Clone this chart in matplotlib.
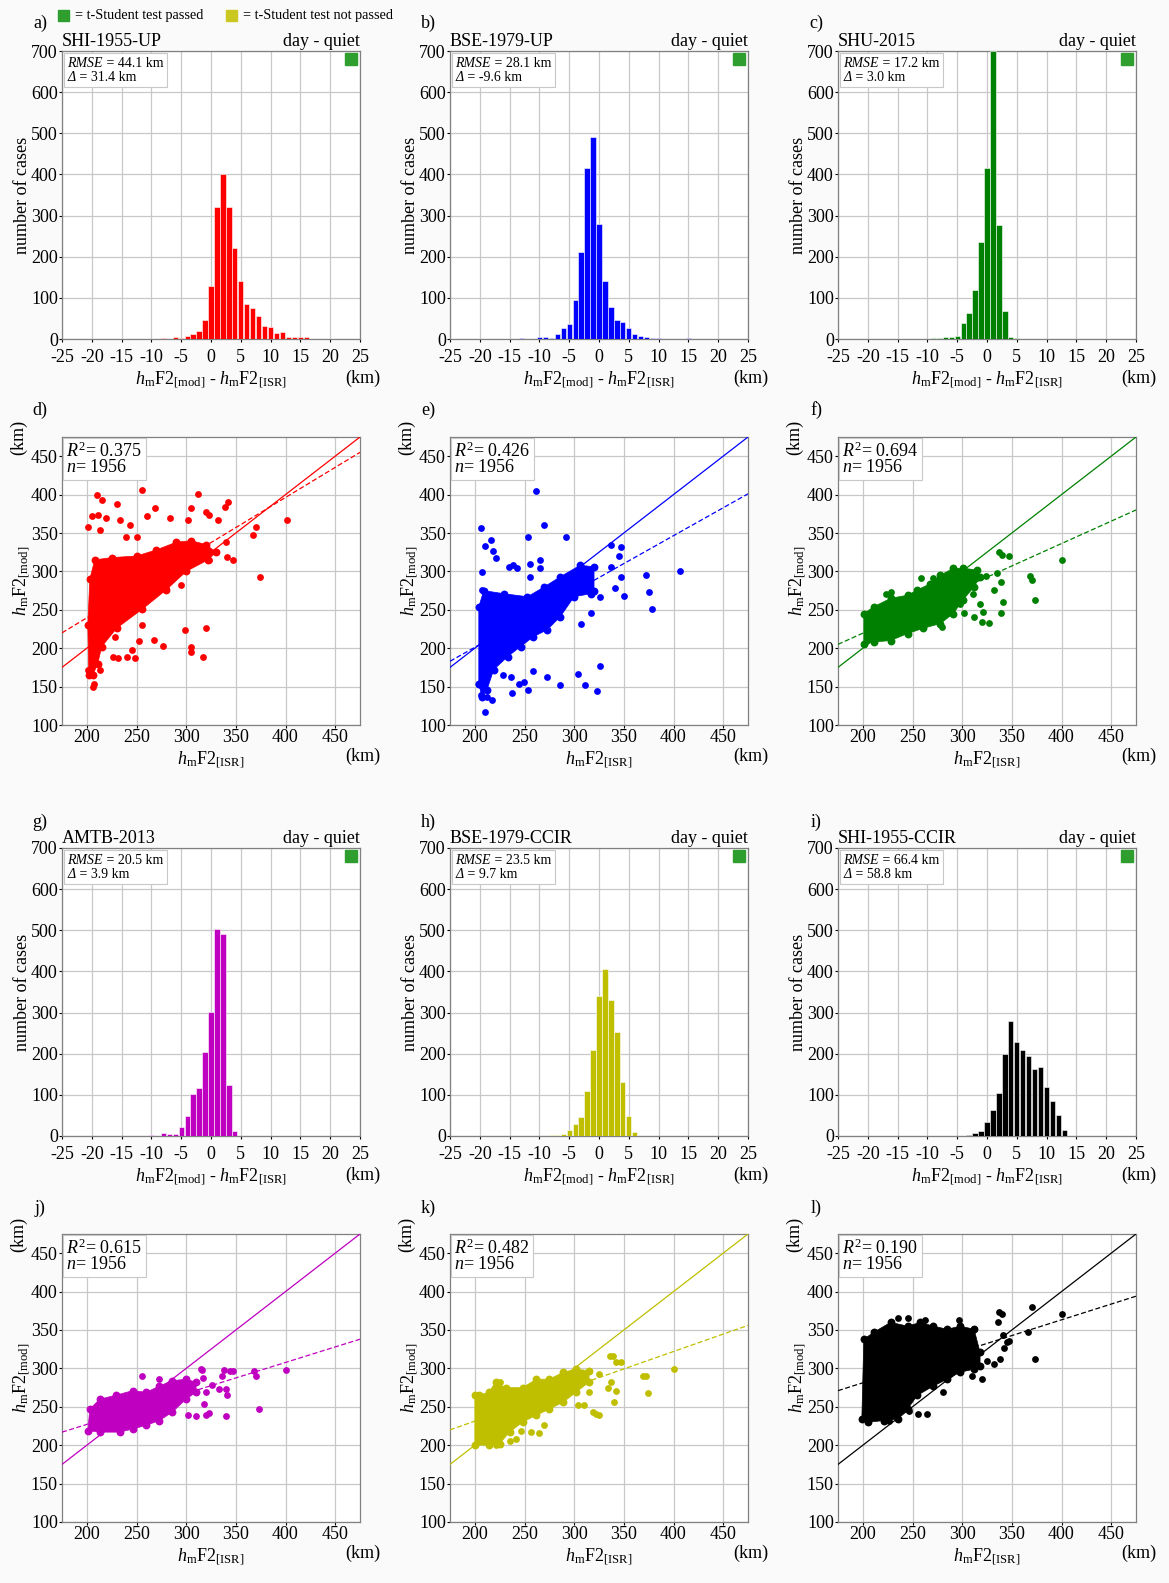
import matplotlib.pyplot as plt
import numpy as np
from matplotlib.offsetbox import TextArea, HPacker, VPacker, AnchoredOffsetbox

plt.rcParams['font.family'] = ['Liberation Serif', 'DejaVu Serif']
plt.rcParams['mathtext.fontset'] = 'custom'
plt.rcParams['mathtext.rm'] = 'Liberation Serif'
plt.rcParams['mathtext.it'] = 'Liberation Serif:italic'
plt.rcParams['mathtext.bf'] = 'Liberation Serif:bold'
plt.rcParams['axes.unicode_minus'] = False

# ---- histogram data (bin centre, number of cases) ----
hist_x_a = [-8, -6, -5, -4, -3, -2, -1, 0, 1, 2, 3, 4, 5, 6, 7, 8, 9, 10, 11, 12, 13, 14, 15, 16]
hist_n_a = [2, 5, 2, 8, 11, 20, 45, 130, 322, 401, 322, 220, 141, 85, 76, 55, 31, 28, 14, 16, 6, 4, 6, 6]

hist_x_b = [-13, -10, -9, -8, -7, -6, -5, -4, -3, -2, -1, 0, 1, 2, 3, 4, 5, 6, 7, 8, 9, 10, 13, 15]
hist_n_b = [2, 5, 5, 3, 12, 27, 37, 95, 212, 415, 490, 280, 140, 78, 45, 42, 27, 11, 8, 6, 3, 2, 1, 2]

hist_x_c = [-9, -8, -7, -6, -5, -4, -3, -2, -1, 0, 1, 2, 3, 4, 5]
hist_n_c = [3, 3, 5, 5, 8, 40, 62, 120, 235, 415, 700, 277, 68, 5, 2]

hist_x_g = [-10, -8, -7, -6, -5, -4, -3, -2, -1, 0, 1, 2, 3, 4]
hist_n_g = [2, 7, 5, 5, 22, 48, 103, 117, 205, 302, 502, 490, 125, 12]

hist_x_h = [-8, -7, -6, -5, -4, -3, -2, -1, 0, 1, 2, 3, 4, 5, 6]
hist_n_h = [3, 2, 5, 15, 30, 45, 110, 210, 340, 405, 330, 252, 132, 48, 10]

hist_x_i = [-3, -2, -1, 0, 1, 2, 3, 4, 5, 6, 7, 8, 9, 10, 11, 12, 13]
hist_n_i = [2, 8, 12, 35, 62, 105, 200, 280, 228, 210, 195, 162, 168, 118, 85, 50, 15]

models = ['SHI-1955-UP', 'BSE-1979-UP', 'SHU-2015', 'AMTB-2013', 'BSE-1979-CCIR', 'SHI-1955-CCIR']
rmse = ['44.1', '28.1', '17.2', '20.5', '23.5', '66.4']
delta = ['31.4', '-9.6', '3.0', '3.9', '9.7', '58.8']
r2 = ['0.375', '0.426', '0.694', '0.615', '0.482', '0.190']
n_cases = ['1956'] * 6
colors = ['#ff0000', '#0000ff', '#008000', '#c000c0', '#bfbf00', '#000000']
hist_labels = ['a)', 'b)', 'c)', 'g)', 'h)', 'i)']
scat_labels = ['d)', 'e)', 'f)', 'j)', 'k)', 'l)']

# ---- scatter data: dense core outline + individual points (km) ----
core_d_x = [202, 201, 203, 208, 225, 250, 270, 290, 305, 320, 330, 322, 300, 280, 256, 230, 215, 211, 206]
core_d_y = [165, 230, 290, 315, 318, 320, 328, 338, 340, 335, 325, 315, 300, 276, 251, 226, 202, 180, 165]
pts_d_x = [210, 215, 230, 256, 312, 342, 339, 305, 269, 205, 211, 219, 233, 243, 261, 284, 302, 332, 201, 213,
           239, 250, 320, 323, 340, 341, 347, 370, 367, 402, 374, 299, 320, 256, 253, 245, 226, 231, 240, 248,
           277, 305, 305, 317, 268, 228, 206, 207, 201, 213, 295, 280, 323, 300, 287]
pts_d_y = [399, 393, 388, 406, 401, 390, 384, 382, 382, 372, 373, 370, 367, 360, 372, 369, 367, 367, 358, 354,
           345, 345, 377, 373, 338, 319, 315, 358, 348, 367, 293, 224, 226, 230, 210, 198, 189, 187, 189, 187,
           203, 201, 195, 189, 211, 215, 150, 154, 172, 172, 282, 278, 315, 315, 321]
fit_d = [220, 455]

core_e_x = [204, 204, 209, 229, 253, 270, 286, 306, 320, 320, 317, 300, 286, 273, 259, 246, 233, 219, 212, 207, 204]
core_e_y = [154, 254, 275, 271, 267, 280, 293, 308, 306, 275, 271, 267, 241, 224, 215, 202, 189, 172, 145, 137, 154]
pts_e_x = [262, 270, 206, 254, 292, 210, 216, 218, 221, 207, 207, 234, 238, 242, 256, 266, 256, 266, 337, 347,
           345, 337, 347, 372, 375, 378, 407, 350, 341, 326, 317, 307, 326, 304, 311, 323, 286, 273, 259, 236,
           244, 249, 254, 237, 228, 210, 206, 212, 217]
pts_e_y = [405, 360, 357, 345, 345, 333, 341, 326, 317, 299, 276, 306, 308, 304, 310, 315, 293, 304, 335, 332,
           320, 306, 293, 295, 273, 251, 301, 268, 279, 267, 246, 231, 177, 166, 152, 144, 152, 162, 170, 163,
           153, 156, 146, 142, 165, 117, 139, 137, 133]
fit_e = [183, 401]

core_f_x = [201, 211, 228, 245, 261, 278, 291, 301, 312, 318, 315, 301, 291, 278, 268, 255, 245, 228, 211, 201]
core_f_y = [206, 208, 210, 219, 226, 232, 245, 263, 280, 293, 302, 304, 304, 295, 284, 276, 269, 265, 254, 245]
pts_f_x = [337, 340, 347, 401, 368, 370, 373, 341, 339, 332, 335, 339, 324, 311, 318, 321, 312, 320, 327, 302,
           298, 271, 259, 223, 228, 205, 234, 280]
pts_f_y = [325, 322, 320, 315, 294, 289, 263, 260, 246, 276, 298, 286, 294, 270, 258, 247, 241, 234, 233, 246,
           257, 291, 291, 271, 273, 244, 226, 228]
fit_f = [205, 380]

core_j_x = [201, 213, 233, 246, 260, 273, 286, 300, 310, 310, 300, 286, 273, 260, 246, 229, 213, 203]
core_j_y = [219, 217, 217, 221, 226, 232, 243, 260, 269, 282, 286, 284, 277, 269, 271, 265, 260, 247]
pts_j_x = [316, 336, 338, 344, 347, 368, 370, 401, 373, 340, 341, 340, 333, 326, 320, 318, 323, 320, 310, 302,
           317, 273, 256, 315]
pts_j_y = [298, 290, 298, 296, 296, 296, 290, 298, 247, 238, 265, 273, 273, 279, 269, 254, 242, 239, 238, 239,
           288, 286, 290, 299]
fit_j = [217, 338]

core_k_x = [200, 214, 225, 235, 248, 262, 275, 289, 302, 315, 315, 302, 289, 275, 262, 248, 231, 221, 214, 204, 200]
core_k_y = [200, 200, 202, 217, 230, 239, 247, 256, 269, 282, 297, 299, 295, 286, 286, 275, 275, 282, 269, 265, 265]
pts_k_x = [336, 339, 342, 347, 401, 369, 372, 374, 340, 342, 334, 337, 325, 325, 319, 322, 310, 304, 315, 257,
           265, 270, 246, 235, 241, 221, 225]
pts_k_y = [316, 316, 308, 308, 299, 290, 290, 268, 256, 270, 274, 282, 293, 239, 243, 241, 252, 252, 269, 217,
           216, 226, 219, 206, 208, 200, 282]
fit_k = [220, 356]

core_l_x = [199, 205, 221, 235, 245, 255, 271, 285, 298, 312, 318, 318, 312, 298, 285, 271, 258, 245, 228, 211, 201]
core_l_y = [234, 230, 232, 234, 247, 265, 277, 286, 295, 299, 303, 321, 351, 355, 351, 355, 360, 355, 360, 347, 338]
pts_l_x = [235, 245, 263, 297, 337, 340, 370, 401, 366, 373, 336, 341, 342, 338, 332, 325, 345, 347, 320, 310,
           288, 281, 256, 265, 246, 226]
pts_l_y = [366, 366, 363, 363, 374, 371, 380, 371, 347, 312, 361, 343, 327, 312, 306, 309, 335, 336, 286, 290,
           293, 269, 241, 241, 245, 232]
fit_l = [271, 394]

cores = [(core_d_x, core_d_y), (core_e_x, core_e_y), (core_f_x, core_f_y),
         (core_j_x, core_j_y), (core_k_x, core_k_y), (core_l_x, core_l_y)]
points = [(pts_d_x, pts_d_y), (pts_e_x, pts_e_y), (pts_f_x, pts_f_y),
          (pts_j_x, pts_j_y), (pts_k_x, pts_k_y), (pts_l_x, pts_l_y)]
fits = [fit_d, fit_e, fit_f, fit_j, fit_k, fit_l]
hists = [(hist_x_a, hist_n_a), (hist_x_b, hist_n_b), (hist_x_c, hist_n_c),
         (hist_x_g, hist_n_g), (hist_x_h, hist_n_h), (hist_x_i, hist_n_i)]

W, H = 1169, 1583
fig = plt.figure(figsize=(W / 100, H / 100), dpi=100)
fig.patch.set_facecolor('#fafafa')

col_left = [62, 450, 838]
ax_w = 298
hist_tops = [51, 848]
scat_tops = [437, 1234]
ax_h = 288
letter_y = [[23, 410], [822, 1208]]
GREEN = '#2e9e2e'
YELLOW = '#c8c81e'
FS = 13

xl_hist = r'$h_{\rm m}$F2$_{\rm [mod]}$ - $h_{\rm m}$F2$_{\rm [ISR]}$'
yl_scat = r'$h_{\rm m}$F2$_{\rm [mod]}$'
xl_scat = r'$h_{\rm m}$F2$_{\rm [ISR]}$'


def px_axes(left, top, w, h):
    return fig.add_axes([left / W, 1 - (top + h) / H, w / W, h / H])


def style_axes(ax):
    ax.set_facecolor('white')
    ax.grid(True, color='#c8c8c8', lw=0.9)
    ax.set_axisbelow(True)
    for sp in ax.spines.values():
        sp.set_color('#808080')
        sp.set_linewidth(0.9)
    ax.tick_params(labelsize=FS, length=2, pad=1, colors='black')


def stats_box(ax, rm, dl):
    fs = 10
    line1 = HPacker(children=[TextArea('RMSE', textprops=dict(fontsize=fs, style='italic')),
                              TextArea(' = %s km' % rm, textprops=dict(fontsize=fs))],
                    pad=0, sep=0)
    line2 = HPacker(children=[TextArea('Δ', textprops=dict(fontsize=fs, style='italic')),
                              TextArea(' = %s km' % dl, textprops=dict(fontsize=fs))],
                    pad=0, sep=0)
    box = VPacker(children=[line1, line2], pad=0, sep=1, align='left')
    anc = AnchoredOffsetbox(loc='upper left', child=box, pad=0.25, borderpad=0.15,
                            frameon=True, bbox_to_anchor=(0.0, 1.0), bbox_transform=ax.transAxes)
    anc.patch.set_edgecolor('#c8c8c8')
    anc.patch.set_linewidth(0.8)
    anc.patch.set_boxstyle('square', pad=0)
    anc.set_zorder(5)
    ax.add_artist(anc)


for k in range(6):
    row, col = divmod(k, 3)
    left = col_left[col]
    color = colors[k]

    # ---------------- histogram ----------------
    ax = px_axes(left, hist_tops[row], ax_w, ax_h)
    style_axes(ax)
    ax.tick_params(axis='x', pad=5)
    hx, hn = hists[k]
    ax.bar(hx, hn, width=0.88, color=color, edgecolor='white', linewidth=0.4, zorder=3)
    ax.set_xlim(-25, 25)
    ax.set_ylim(0, 700)
    ax.set_xticks(np.arange(-25, 26, 5))
    ax.set_yticks(np.arange(0, 701, 100))
    ax.set_ylabel('number of cases', fontsize=FS, labelpad=0)
    ax.set_xlabel(xl_hist, fontsize=FS, labelpad=3)
    ax.text(1.07, -0.135, '(km)', transform=ax.transAxes, fontsize=FS, ha='right', va='center')
    ax.text(0.0, 1.005, models[k], transform=ax.transAxes, fontsize=FS, ha='left', va='bottom')
    ax.text(1.0, 1.005, 'day - quiet', transform=ax.transAxes, fontsize=FS, ha='right', va='bottom')
    stats_box(ax, rmse[k], delta[k])
    ax.plot([0.97], [0.972], marker='s', ms=8, color=GREEN, transform=ax.transAxes,
            clip_on=False, zorder=6)
    fig.text((left - 22) / W, 1 - letter_y[row][0] / H, hist_labels[k], fontsize=FS,
             ha='center', va='center')

    # ---------------- scatter ----------------
    ax = px_axes(left, scat_tops[row], ax_w, ax_h)
    style_axes(ax)
    cx, cy = cores[k]
    px, py = points[k]
    ax.fill(cx, cy, color=color, lw=0.5, ec=color, zorder=3)
    ax.scatter(cx, cy, s=32, color=color, lw=0, zorder=3)
    ax.scatter(px, py, s=24, color=color, lw=0, zorder=3)
    ax.plot([175, 475], [175, 475], color=color, lw=0.9, zorder=4)
    ax.plot([175, 475], fits[k], color=color, lw=0.9, ls=(0, (4, 2)), zorder=4)
    ax.set_xlim(175, 475)
    ax.set_ylim(100, 475)
    ax.set_xticks(np.arange(200, 451, 50))
    ax.set_yticks(np.arange(100, 451, 50))
    ax.set_ylabel(yl_scat, fontsize=FS, labelpad=-1)
    ax.set_xlabel(xl_scat, fontsize=FS, labelpad=2)
    ax.text(1.07, -0.11, '(km)', transform=ax.transAxes, fontsize=FS, ha='right', va='center')
    ax.text(-0.145, 1.0, '(km)', transform=ax.transAxes, fontsize=FS, rotation=90,
            ha='center', va='center')
    ax.text(0.015, 0.985, '$R^2$= ' + r2[k] + '\n$n$= ' + n_cases[k],
            transform=ax.transAxes, fontsize=FS, ha='left', va='top', linespacing=0.9,
            bbox=dict(boxstyle='square,pad=0.2', fc='white', ec='#c8c8c8', lw=0.8), zorder=5)
    fig.text((left - 22) / W, 1 - letter_y[row][1] / H, scat_labels[k], fontsize=FS,
             ha='center', va='center')

# ---- top legend ----
fig.patches.append(plt.Rectangle((58 / W, 1 - 21 / H), 11 / W, 11 / H, transform=fig.transFigure,
                                 color=GREEN, figure=fig))
fig.text(75 / W, 1 - 16 / H, '= t-Student test passed', fontsize=10.3, va='center', ha='left')
fig.patches.append(plt.Rectangle((226 / W, 1 - 21 / H), 11 / W, 11 / H, transform=fig.transFigure,
                                 color=YELLOW, figure=fig))
fig.text(243 / W, 1 - 16 / H, '= t-Student test not passed', fontsize=10.3, va='center', ha='left')

fig.savefig('out.png', dpi=100, facecolor=fig.get_facecolor())
